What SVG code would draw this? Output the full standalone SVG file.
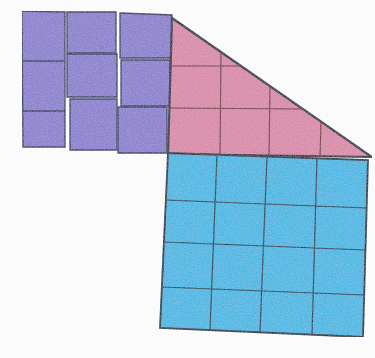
<svg xmlns="http://www.w3.org/2000/svg" width="375" height="358" viewBox="0 0 375 358">
<style>
.pur{fill:#8a7ecd;stroke:#2f345e;stroke-width:1.3}
.pink{fill:#d888a7;stroke:#262d45;stroke-width:2.2}
.blue{fill:#45b6e2;stroke:#222c3c;stroke-width:1.8}
.gp{stroke:#6a2e3e;stroke-width:1.1;fill:none}
.gb{stroke:#1c3d50;stroke-width:1.2;fill:none}
.gv{stroke:#2f345e;stroke-width:1.4;fill:none}
</style>
<defs>
<filter id="tex" x="0" y="0" width="100%" height="100%">
<feTurbulence type="fractalNoise" baseFrequency="0.9" numOctaves="2" seed="3" result="n"/>
<feColorMatrix in="n" type="matrix" values="0 0 0 0 1  0 0 0 0 1  0 0 0 0 1  0 0 0 0.25 -0.06" result="w"/>
<feComposite in="w" in2="SourceGraphic" operator="in" result="wm"/>
<feMerge><feMergeNode in="SourceGraphic"/><feMergeNode in="wm"/></feMerge>
</filter>
</defs>
<rect width="375" height="358" fill="#fbfbfb"/>
<g filter="url(#tex)">
<g id="purple-column-1">
<path class="pur" d="M22,11 L65,12 L65,147 L23,147 Z"/>
<path class="gv" d="M22,61 L65,61 M23,111 L65,111"/>
</g>
<g id="purple-col2-top"><path class="pur" d="M67,12 L116,12 L116,53 L67,53 Z"/></g>
<g id="purple-col2-mid"><path class="pur" d="M67,54 L117,54 L117,97 L67,97 Z"/></g>
<g id="purple-col2-bot"><path class="pur" d="M70,99 L117,99 L117,150 L70,150 Z"/></g>
<g id="purple-col3-top"><path class="pur" d="M120,13 L172,15 L172,58 L120,58 Z"/></g>
<g id="purple-col3-mid"><path class="pur" d="M121,60 L170,60 L170,106 L121,106 Z"/></g>
<g id="purple-col3-bot"><path class="pur" d="M118,107 L167,107 L167,153 L118,153 Z"/></g>
<g id="pink-triangle">
<path class="pink" d="M172,18 L372,157 L168,154 Z"/>
<path class="gp" d="M171,66 L241,66 M170,108 L302,109 M221,52 L220,155 M270,87 L269,156 M321,121 L320,157"/>
</g>
<g id="blue-square">
<path class="blue" d="M168,153 L368,160 L363,337 L160,328 Z"/>
<path class="gb" d="M166,200 L366,208 M164,242 L365,250 M162,287 L364,295 M217,155 L210,330 M267,157 L260,332 M317,158 L312,335"/>
</g>
</g>
</svg>
